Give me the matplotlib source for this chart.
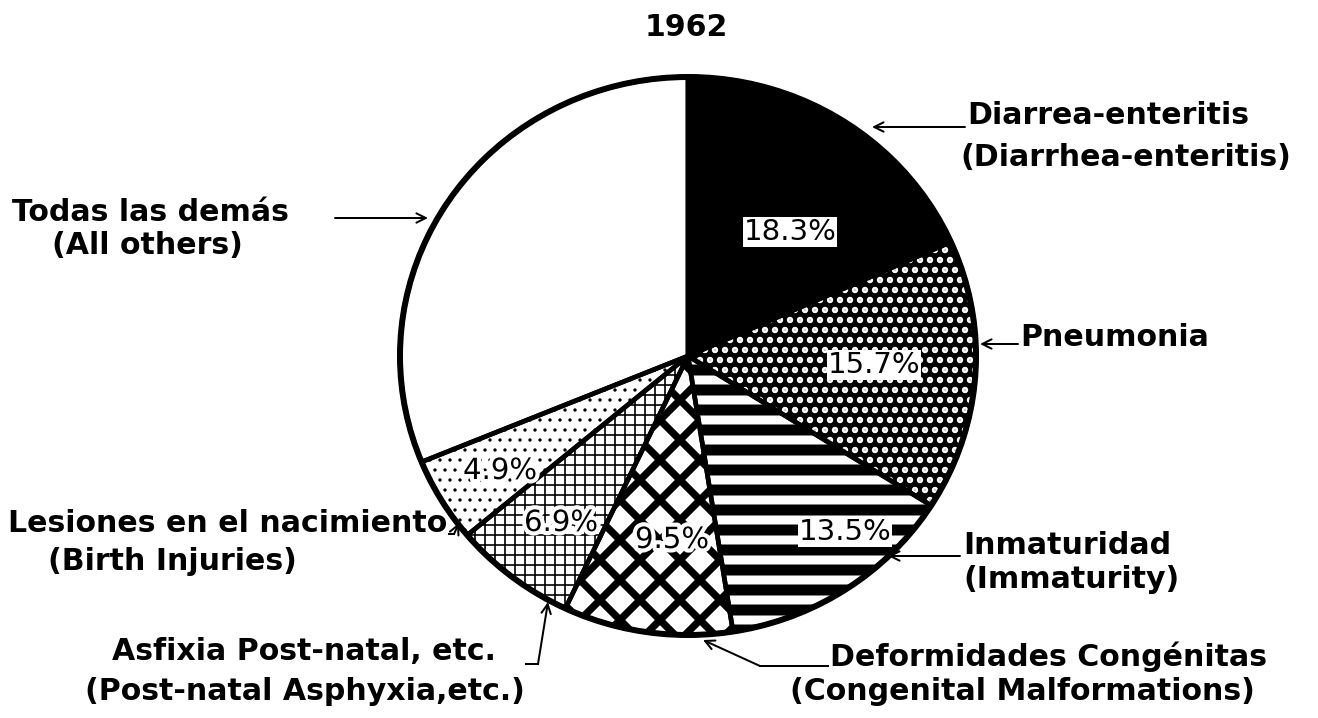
import numpy as np
import matplotlib.pyplot as plt
import matplotlib.patheffects as pe

# causes of infant death, 1962 (percent of total), clockwise from 12 o'clock
year = '1962'
shares = [18.3, 15.7, 13.5, 9.5, 6.9, 4.9, 31.2]
pct_labels = ['18.3%', '15.7%', '13.5%', '9.5%', '6.9%', '4.9%', '']
names_es = ['Diarrea-enteritis', 'Pneumonia', 'Inmaturidad',
            'Deformidades Congénitas', 'Asfixia Post-natal, etc.',
            'Lesiones en el nacimiento', 'Todas las demás']
names_en = ['(Diarrhea-enteritis)', '', '(Immaturity)',
            '(Congenital Malformations)', '(Post-natal Asphyxia,etc.)',
            '(Birth Injuries)', '(All others)']

# wedge styles
fills = ['black', 'black', 'white', 'white', 'white', 'white', 'white']
hatch_colors = ['black', 'white', 'black', 'black', 'black', 'black', 'black']
hatches = [None, '..', '-', 'x', '++', '..', None]
hatch_lws = [1.0, 2.6, 6.6, 4.4, 1.0, 0.8, 1.0]
pct_boxed = [True, True, True, False, False, False, False]

# layout in reference pixels
W, H, DPI = 1318, 718, 120
CX, CY, RX, RY = 688, 356, 288, 279


def px(x, y):
    return (x - CX) / RX, (CY - y) / RY


pct_pos = [(790, 232), (874, 365), (845, 532), (672, 540), (561, 523), (500, 471)]
name_pos = [(967, 116), (1020, 337), (963, 546), (830, 657), (112, 652), (8, 524), (12, 212)]
sub_pos = [(960, 157), None, (963, 580), (790, 692), (85, 691), (48, 562), (52, 245)]
arrows = [
    [(965, 127), (872, 127)],
    [(1018, 344), (980, 344)],
    [(960, 556), (888, 556)],
    [(828, 666), (760, 666), (703, 640)],
    [(526, 664), (538, 664), (548, 602)],
    [(449, 534), (454, 534), (459, 523)],
    [(335, 218), (428, 218)],
]


def main():
    plt.rcParams['font.family'] = ['DejaVu Sans']
    plt.rcParams['hatch.linewidth'] = 1.0

    fig = plt.figure(figsize=(W / DPI, H / DPI), dpi=DPI)
    ax = fig.add_axes([0, 0, 1, 1])

    wedges, _ = ax.pie(shares, startangle=90, counterclock=False,
                       wedgeprops=dict(linewidth=0))
    for w, fc, hc, ht, hl in zip(wedges, fills, hatch_colors, hatches, hatch_lws):
        w.set_facecolor(fc)
        w.set_edgecolor(hc)
        w.set_linewidth(0)
        if ht:
            w.set_hatch(ht)
            if hasattr(w, 'set_hatch_linewidth'):
                w.set_hatch_linewidth(hl)

    # outlines on top
    ax.pie(shares, startangle=90, counterclock=False,
           wedgeprops=dict(fill=False, edgecolor='black', linewidth=2.8,
                           joinstyle='round'))
    ax.add_patch(plt.Circle((0, 0), 1, fill=False, edgecolor='black', linewidth=3.6))

    ax.set_aspect('auto')
    ax.set_xlim(px(0, 0)[0], px(W, 0)[0])
    ax.set_ylim(px(0, H)[1], px(0, 0)[1])
    ax.axis('off')

    for lab, (x, y), boxed in zip(pct_labels, pct_pos, pct_boxed):
        if not lab:
            continue
        if boxed:
            ax.text(*px(x, y), lab, ha='center', va='center', fontsize=17.5,
                    bbox=dict(facecolor='white', edgecolor='none', pad=0.3))
        else:
            ax.text(*px(x, y), lab, ha='center', va='center', fontsize=17.5,
                    path_effects=[pe.withStroke(linewidth=5, foreground='white')])

    for lab, pos in zip(names_es, name_pos):
        ax.text(*px(*pos), lab, ha='left', va='center', fontsize=18, fontweight='bold')
    for lab, pos in zip(names_en, sub_pos):
        if pos is None:
            continue
        ax.text(*px(*pos), lab, ha='left', va='center', fontsize=18, fontweight='bold')

    for pts in arrows:
        xy = [px(x, y) for x, y in pts]
        if len(xy) > 2:
            ax.plot([p[0] for p in xy[:-1]], [p[1] for p in xy[:-1]],
                    color='black', linewidth=1.2)
        ax.annotate('', xy=xy[-1], xytext=xy[-2],
                    arrowprops=dict(arrowstyle='->', color='black', lw=1.2,
                                    shrinkA=0, shrinkB=0, mutation_scale=14))

    ax.text(*px(686, 28), year, ha='center', va='center', fontsize=18, fontweight='bold')

    fig.savefig('out.png', dpi=DPI)


if __name__ == "__main__":
    main()
